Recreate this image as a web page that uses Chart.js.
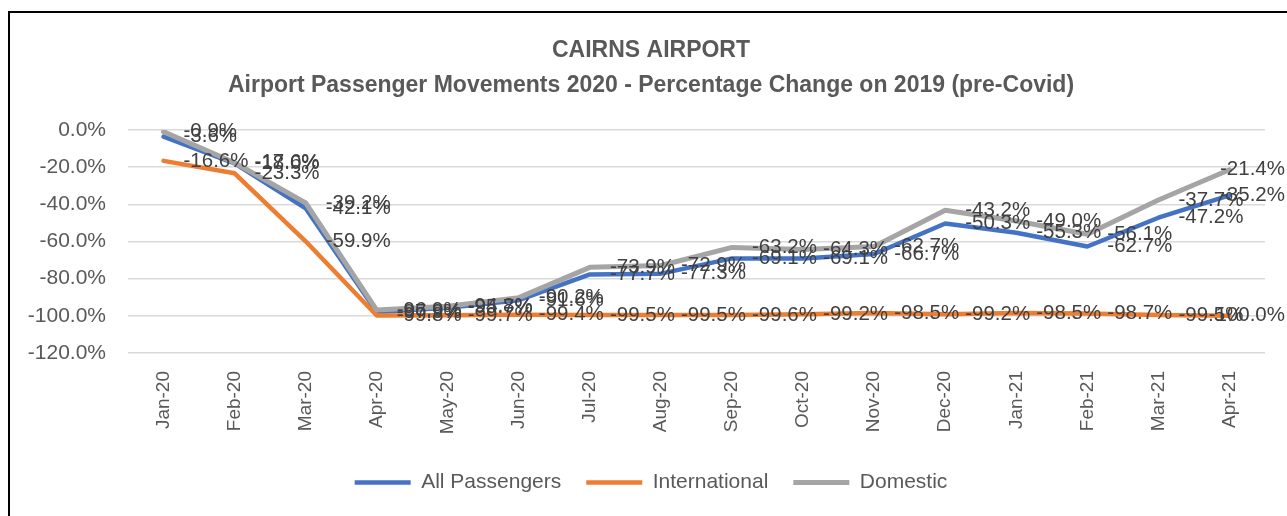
<!DOCTYPE html>
<html>
<head>
<meta charset="utf-8">
<script src="https://cdn.jsdelivr.net/npm/chart.js@4/dist/chart.umd.min.js"></script>
<style>
  body { margin: 0; background: #fff; }
  #frame {
    position: absolute; left: 8px; top: 11px; width: 1400px; height: 600px;
    border-top: 2px solid #000; border-left: 2px solid #000; pointer-events: none;
  }
  #priceChart { position: absolute; left: 0; top: 0; }
</style>
</head>
<body>
<canvas id="priceChart" width="1287" height="516"></canvas>
<div id="frame"></div>
<script>
const months = ['Jan-20', 'Feb-20', 'Mar-20', 'Apr-20', 'May-20', 'Jun-20', 'Jul-20', 'Aug-20',
  'Sep-20', 'Oct-20', 'Nov-20', 'Dec-20', 'Jan-21', 'Feb-21', 'Mar-21', 'Apr-21'];

const allPassengers = [-3.6, -18.0, -42.1, -97.9, -95.7, -91.6, -77.7, -77.3, -69.1, -69.1, -66.7, -50.3, -55.3, -62.7, -47.2, -35.2];
const international = [-16.6, -23.3, -59.9, -99.8, -99.7, -99.4, -99.5, -99.5, -99.6, -99.2, -98.5, -99.2, -98.5, -98.7, -99.5, -100.0];
const domestic = [-0.9, -17.6, -39.2, -96.9, -94.8, -90.2, -73.9, -72.9, -63.2, -64.3, -62.7, -43.2, -49.0, -56.1, -37.7, -21.4];

const FONT = "'Liberation Sans', Arial, sans-serif";
const ctx = document.getElementById('priceChart').getContext('2d');

// draws the "-12.3%" labels to the right of every point, like Excel does
const pointLabels = {
  id: 'pointLabels',
  afterDatasetsDraw(chart) {
    const c = chart.ctx;
    c.save();
    c.font = '20.5px ' + FONT;
    c.fillStyle = '#404040';
    c.textBaseline = 'middle';
    c.textAlign = 'left';
    chart.data.datasets.forEach((ds, i) => {
      const meta = chart.getDatasetMeta(i);
      meta.data.forEach((pt, j) => {
        const text = ds.data[j].toFixed(1) + '%';
        const w = c.measureText(text).width;
        let x = pt.x + 20;
        if (x + w > chart.width - 2) x = chart.width - 2 - w;
        c.fillText(text, x, pt.y);
      });
    });
    c.restore();
  }
};

const line = (label, data, color, width, order) => ({
  label: label,
  data: data,
  borderColor: color,
  backgroundColor: color,
  borderWidth: width,
  borderCapStyle: 'round',
  borderJoinStyle: 'round',
  pointRadius: 0,
  tension: 0,
  fill: false,
  order: order
});

new Chart(ctx, {
  type: 'line',
  data: {
    labels: months,
    datasets: [
      line('All Passengers', allPassengers, '#4472C4', 4.5, 2),
      line('International', international, '#ED7D31', 4.5, 1),
      line('Domestic', domestic, '#A5A5A5', 5, 0)
    ]
  },
  plugins: [pointLabels],
  options: {
    responsive: false,
    animation: false,
    devicePixelRatio: 1,
    layout: { padding: { left: 22, right: 7, top: 0, bottom: 13 } },
    plugins: {
      tooltip: { enabled: false },
      title: {
        display: true,
        text: ['CAIRNS AIRPORT', 'Airport Passenger Movements 2020 - Percentage Change on 2019 (pre-Covid)'],
        color: '#595959',
        font: { family: FONT, size: 23, weight: 'bold', lineHeight: 35 / 23 },
        padding: { top: 33, bottom: 27 }
      },
      legend: {
        position: 'bottom',
        labels: {
          usePointStyle: true,
          pointStyle: 'line',
          pointStyleWidth: 56,
          boxHeight: 20,
          padding: 25,
          color: '#595959',
          font: { family: FONT, size: 21 },
          sort: (a, b) => a.datasetIndex - b.datasetIndex
        }
      }
    },
    scales: {
      x: {
        offset: true,
        grid: { display: false },
        border: { display: false },
        ticks: {
          autoSkip: false,
          minRotation: 90,
          maxRotation: 90,
          padding: 10,
          color: '#595959',
          font: { family: FONT, size: 19 }
        },
        afterFit: (scale) => { scale.height = 94; }
      },
      y: {
        min: -120,
        max: 0,
        grid: { color: '#d9d9d9', lineWidth: 1.5, drawTicks: false },
        border: { display: false },
        ticks: {
          stepSize: 20,
          padding: 22,
          color: '#595959',
          font: { family: FONT, size: 21 },
          callback: (value) => Number(value).toFixed(1) + '%'
        },
        afterFit: (scale) => { scale.width = 106; }
      },
      // empty right-hand margin of the plot area
      yRight: {
        position: 'right',
        min: -120,
        max: 0,
        grid: { display: false },
        border: { display: false },
        ticks: { display: false },
        afterFit: (scale) => { scale.width = 15; }
      }
    }
  }
});
</script>
</body>
</html>
